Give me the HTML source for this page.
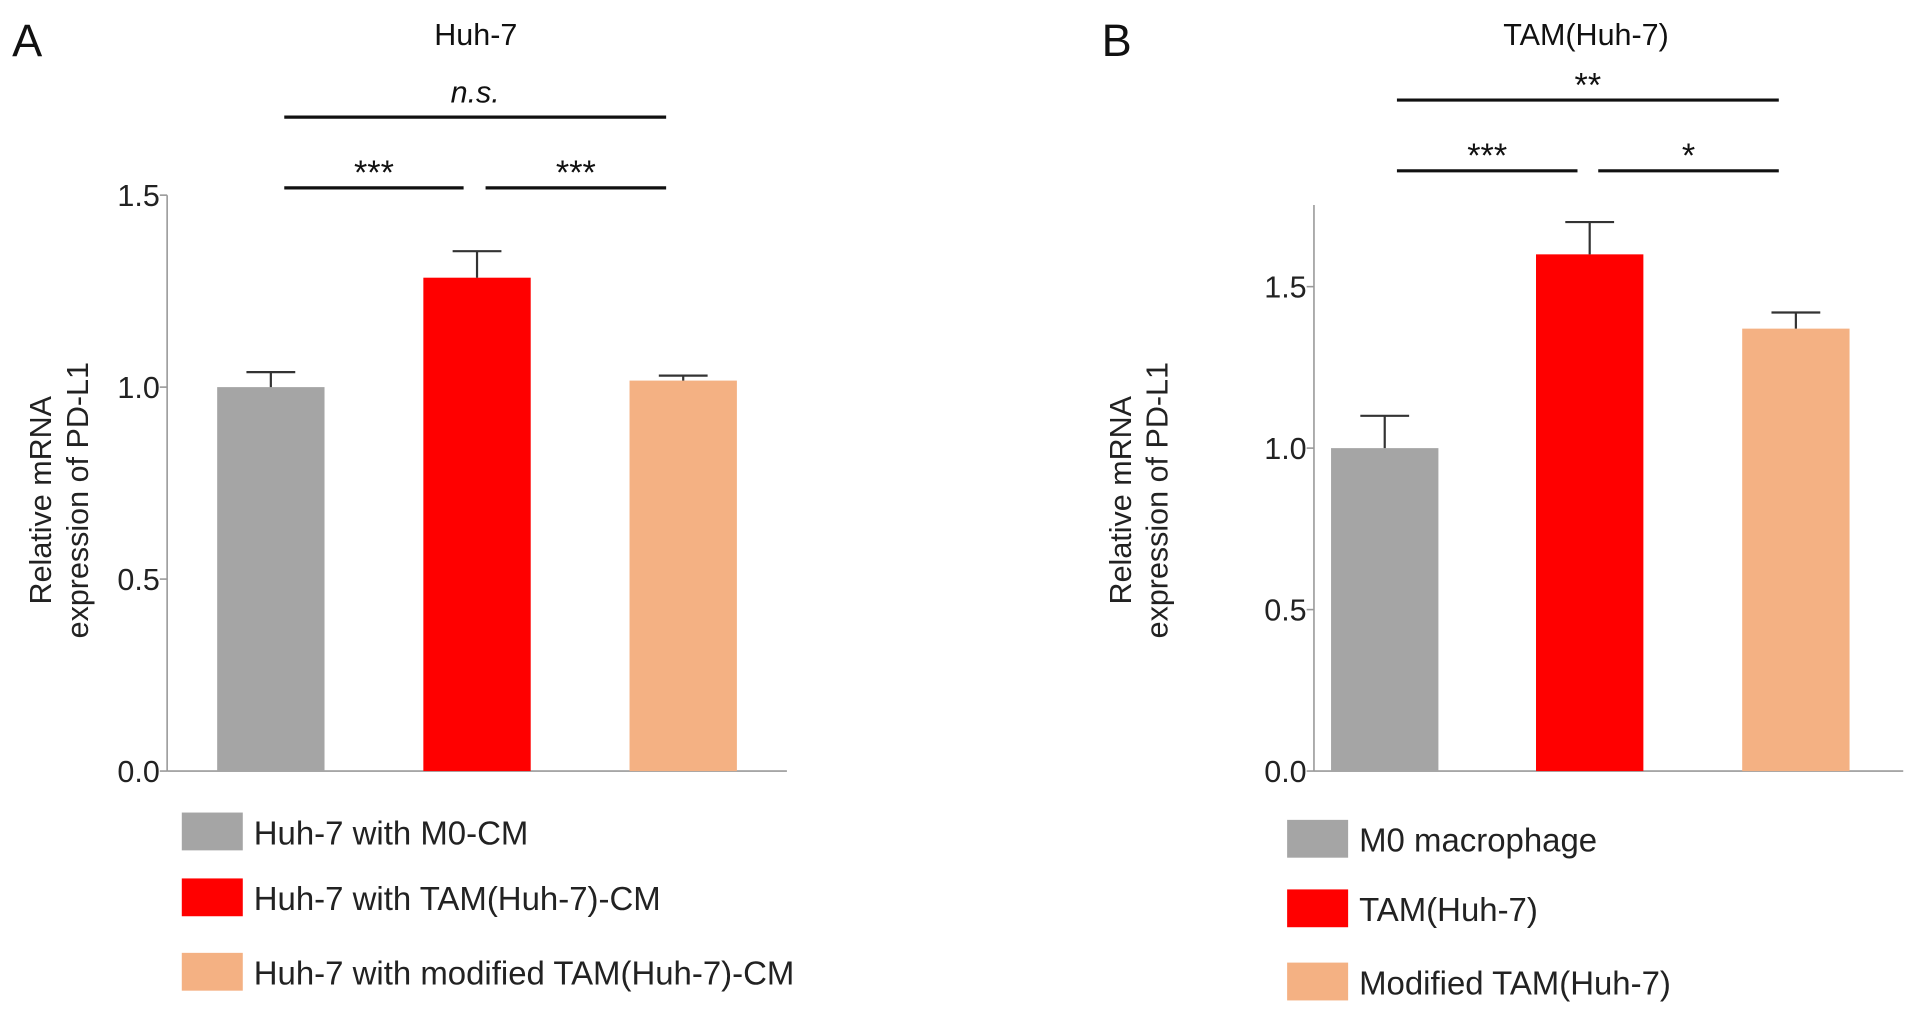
<!DOCTYPE html>
<html><head><meta charset="utf-8"><style>
html,body{margin:0;padding:0;background:#fff;}
svg{display:block;font-family:"Liberation Sans",Arial,sans-serif;}
</style></head><body>
<svg id="fig" width="1913" height="1018" viewBox="0 0 1568 834.4" preserveAspectRatio="none" xmlns="http://www.w3.org/2000/svg"></svg>
<script>
const categoriesA = ["Huh-7 with M0-CM","Huh-7 with TAM(Huh-7)-CM","Huh-7 with modified TAM(Huh-7)-CM"];
const valuesA = [1.0, 1.285, 1.017];
const errorsA = [0.039, 0.069, 0.013];
const ticksA = [0.0, 0.5, 1.0, 1.5];
const tickLabelsA = ["0.0","0.5","1.0","1.5"];
const categoriesB = ["M0 macrophage","TAM(Huh-7)","Modified TAM(Huh-7)"];
const valuesB = [1.0, 1.60, 1.37];
const errorsB = [0.10, 0.10, 0.05];
const ticksB = [0.0, 0.5, 1.0, 1.5];
const tickLabelsB = ["0.0","0.5","1.0","1.5"];
const colors = ["#a5a5a5","#ff0000","#f4b183"];

const NS="http://www.w3.org/2000/svg";
const svg=document.getElementById('fig');
function mk(tag,attrs,parent){const e=document.createElementNS(NS,tag);for(const k in attrs)e.setAttribute(k,attrs[k]);(parent||svg).appendChild(e);return e;}
function txt(s,attrs,parent){const e=mk('text',attrs,parent);e.textContent=s;return e;}

function panel(o){
  const g=mk('g',{});
  
  
  const y=v=>o.y0-(v)*o.unit;
  const l=txt(o.letter,{x:o.letterX,y:46,'font-size':37,fill:'#111'},g);
  
  
  const t=txt(o.title,{x:o.titleX,y:37,'font-size':25,'text-anchor':'middle',fill:'#111'},g);
  
  
  const ya=mk('line',{x1:o.ax,x2:o.ax,y1:o.y0,y2:o.axTop,stroke:'#999','stroke-width':1.3},g);
  
  
  const xa=mk('line',{x1:o.ax,x2:o.axEnd,y1:o.y0,y2:o.y0,stroke:'#999','stroke-width':1.3},g);
  
  
  o.ticks.forEach((v,i)=>{
    mk('line',{x1:o.ax-6,x2:o.ax,y1:y(v),y2:y(v),stroke:'#999','stroke-width':1.3},g);
    const tl=txt(o.tickLabels[i],{x:o.ax-6,y:y(v)+9,'font-size':25,'text-anchor':'end',fill:'#222'},g);
    
    
  });
  const yl=txt('',{transform:`translate(${o.ylX},${o.ylY}) rotate(-90)`,'font-size':25,'text-anchor':'middle',fill:'#222'},g);
  
  
  const s1=mk('tspan',{x:0,y:0},yl);s1.textContent='Relative mRNA';
  const s2=mk('tspan',{x:0,y:30},yl);s2.textContent='expression of PD-L1';
  o.values.forEach((v,i)=>{
    const x=o.barX[i];
    const b=mk('rect',{x:x,y:y(v),width:o.bw,height:o.y0-y(v),fill:colors[i]},g);
    
    
    const cx=x+o.bw/2, et=y(v+o.errors[i]);
    const e=mk('path',{d:`M${cx},${y(v)}V${et}M${cx-20},${et}H${cx+20}`,stroke:'#333','stroke-width':1.8,fill:'none'},g);
    
    
    const sw=mk('rect',{x:o.legX,y:o.legY[i],width:50,height:31,fill:colors[i]},g);
    
    
    const lt=txt(o.cats[i],{x:o.legX+59,y:o.legY[i]+26,'font-size':27,fill:'#222'},g);
    
    
  });
  o.sig.forEach(s=>{
    const ln=mk('line',{x1:s[0],x2:s[1],y1:s[2],y2:s[2],stroke:'#111','stroke-width':2.6},g);
    
    
    const st=txt(s[3],{x:(s[0]+s[1])/2,y:s[2]-9+(s[4]?-3:6),'font-size':s[4]?25:28,'font-style':s[4]?'italic':'normal','text-anchor':'middle',fill:'#111'},g);
    
    
  });
}
panel({id:'a',letter:'A',letterX:10,title:'Huh-7',titleX:390,ax:137,axTop:160,axEnd:645,y0:632,unit:314.7,
  ticks:ticksA,tickLabels:tickLabelsA,values:valuesA,errors:errorsA,cats:categoriesA,
  barX:[178,347,516],bw:88,ylX:42,ylY:410,legX:149,legY:[666,720,781],
  sig:[[233,546,96,'n.s.',true],[233,380,154,'***'],[398,546,154,'***']]});
panel({id:'b',letter:'B',letterX:903,title:'TAM(Huh-7)',titleX:1300,ax:1077,axTop:168,axEnd:1560,y0:632,unit:264.7,
  ticks:ticksB,tickLabels:tickLabelsB,values:valuesB,errors:errorsB,cats:categoriesB,
  barX:[1091,1259,1428],bw:88,ylX:927,ylY:410,legX:1055,legY:[672,729,789],
  sig:[[1145,1458,82,'**'],[1145,1293,140,'***'],[1310,1458,140,'*']]});
</script>
</body></html>
